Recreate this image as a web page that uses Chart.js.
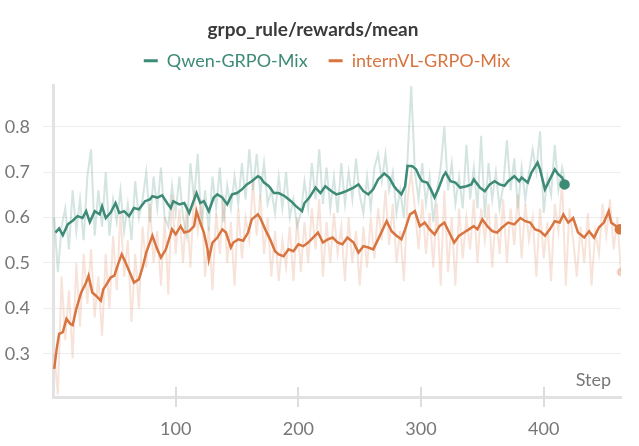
<!DOCTYPE html>
<html>
<head>
<meta charset="utf-8">
<script src="https://cdn.jsdelivr.net/npm/chart.js@4"></script>
<style>
  body { margin: 0; background: #fff; }
  #chart { display: block; }
</style>
</head>
<body>
<canvas id="chart" width="639" height="446"></canvas>
<script>
// ----- data -----
const seriesNames = ['Qwen-GRPO-Mix', 'internVL-GRPO-Mix'];
const yTicks = [0.3, 0.4, 0.5, 0.6, 0.7, 0.8];
const xTicks = [100, 200, 300, 400];

// smoothed curves
const qwenSteps = [2,5,8,12,16,20,24,27,30,34,38,40,43,47,51,54,58,62,66,70,75,79,81,85,89,93,
  96,98,103,107,111,114,117,120,123,127,131,134,138,142,146,150,154,158,162,167,169,172,176,180,184,
  189,194,198,203,205,209,214,218,222,227,231,235,239,245,249,253,257,261,265,270,274,278,
  280,284,287,289,293,296,299,301,305,308,311,314,318,320,324,328,332,337,341,343,348,352,356,360,364,368,
  371,376,380,382,387,390,395,397,401,405,409,412,415,417];
const qwenSmooth = [0.567,0.576,0.561,0.585,0.593,0.603,0.599,0.614,0.590,0.614,0.607,0.625,0.599,0.611,0.632,0.610,0.614,0.603,0.621,0.618,0.636,0.640,0.647,0.644,0.649,0.632,
  0.621,0.636,0.629,0.632,0.610,0.632,0.654,0.632,0.636,0.614,0.644,0.651,0.644,0.629,0.651,0.654,0.662,0.673,0.680,0.691,0.688,0.677,0.669,0.654,0.654,
  0.647,0.636,0.625,0.614,0.632,0.644,0.666,0.654,0.669,0.658,0.651,0.654,0.658,0.666,0.673,0.658,0.651,0.662,0.684,0.697,0.688,0.669,
  0.662,0.651,0.669,0.714,0.713,0.706,0.688,0.680,0.677,0.662,0.644,0.662,0.691,0.699,0.680,0.677,0.666,0.669,0.673,0.684,0.666,0.658,0.673,0.680,0.673,0.670,
  0.680,0.691,0.680,0.688,0.677,0.699,0.721,0.706,0.662,0.684,0.706,0.695,0.688,0.673];

const internSteps = [1,3,5,8,11,14,16,19,23,27,29,32,35,39,41,43,47,50,53,56,58,62,66,70,73,76,79,81,85,88,92,
  95,97,100,104,107,111,115,117,120,123,126,127,130,134,138,141,145,147,151,155,159,162,167,169,173,177,181,184,
  188,192,196,200,204,208,212,216,220,224,228,232,236,240,245,249,253,257,261,265,270,272,276,
  280,284,287,291,295,299,303,307,311,315,319,323,327,331,335,339,343,346,350,354,358,362,366,
  371,376,381,385,389,393,397,401,405,409,413,416,420,424,428,433,437,441,445,449,453,455,459,462];
const internSmooth = [0.267,0.311,0.344,0.348,0.377,0.366,0.363,0.399,0.435,0.457,0.472,0.435,0.428,0.417,0.442,0.450,0.468,0.472,0.497,0.519,0.508,0.483,0.457,0.464,0.490,0.523,0.545,0.560,0.530,0.512,0.530,
  0.556,0.574,0.563,0.581,0.567,0.570,0.581,0.614,0.589,0.567,0.530,0.508,0.545,0.556,0.574,0.567,0.534,0.545,0.552,0.549,0.567,0.596,0.607,0.599,0.574,0.552,0.526,0.519,
  0.515,0.530,0.526,0.541,0.537,0.545,0.556,0.567,0.545,0.552,0.556,0.545,0.541,0.556,0.545,0.523,0.537,0.534,0.530,0.552,0.581,0.592,0.570,
  0.560,0.552,0.574,0.607,0.614,0.581,0.589,0.574,0.563,0.581,0.589,0.567,0.545,0.560,0.567,0.574,0.581,0.574,0.596,0.581,0.570,0.567,0.578,
  0.589,0.585,0.599,0.592,0.589,0.574,0.570,0.560,0.574,0.592,0.589,0.607,0.589,0.599,0.567,0.556,0.570,0.556,0.578,0.589,0.614,0.589,0.581,0.574];

// raw (unsmoothed) values, one every 3 steps starting at step 1
const rawStride = 3;
const qwenRaw = [0.60,0.48,0.58,0.62,0.53,0.66,0.57,0.64,0.55,0.69,
  0.75,0.56,0.66,0.58,0.70,0.56,0.64,0.59,0.66,0.57,
  0.63,0.55,0.68,0.60,0.64,0.70,0.59,0.69,0.62,0.71,
  0.60,0.58,0.67,0.61,0.69,0.60,0.56,0.72,0.64,0.74,
  0.58,0.66,0.57,0.69,0.62,0.71,0.59,0.67,0.62,0.69,
  0.63,0.72,0.64,0.75,0.66,0.74,0.65,0.72,0.63,0.66,
  0.61,0.69,0.62,0.70,0.60,0.64,0.58,0.61,0.68,0.62,
  0.72,0.64,0.75,0.63,0.71,0.62,0.69,0.61,0.72,0.63,
  0.70,0.64,0.73,0.65,0.61,0.69,0.62,0.71,0.74,0.68,
  0.74,0.66,0.70,0.61,0.66,0.60,0.73,0.89,0.70,0.64,
  0.72,0.63,0.69,0.59,0.66,0.71,0.80,0.66,0.72,0.63,
  0.69,0.62,0.76,0.64,0.71,0.62,0.78,0.60,0.72,0.64,
  0.70,0.62,0.67,0.77,0.66,0.73,0.62,0.71,0.64,0.70,
  0.75,0.70,0.79,0.61,0.69,0.65,0.76,0.66,0.71,0.67];
const internRaw = [0.30,0.21,0.47,0.33,0.44,0.29,0.50,0.36,0.52,0.41,
  0.53,0.38,0.47,0.34,0.52,0.40,0.56,0.44,0.61,0.47,
  0.55,0.37,0.52,0.40,0.58,0.49,0.63,0.50,0.57,0.45,
  0.60,0.43,0.65,0.52,0.62,0.50,0.63,0.49,0.66,0.57,
  0.64,0.47,0.58,0.44,0.61,0.52,0.65,0.50,0.59,0.45,
  0.62,0.51,0.60,0.55,0.68,0.56,0.65,0.52,0.60,0.47,
  0.57,0.46,0.55,0.49,0.58,0.46,0.60,0.48,0.59,0.50,
  0.62,0.53,0.64,0.47,0.59,0.50,0.61,0.52,0.58,0.46,
  0.60,0.50,0.57,0.45,0.58,0.49,0.60,0.51,0.62,0.55,
  0.66,0.54,0.63,0.50,0.57,0.46,0.64,0.70,0.62,0.53,
  0.64,0.52,0.61,0.49,0.63,0.45,0.66,0.48,0.60,0.45,
  0.62,0.51,0.60,0.53,0.64,0.50,0.62,0.55,0.63,0.49,
  0.61,0.52,0.64,0.50,0.62,0.54,0.65,0.51,0.63,0.55,
  0.60,0.47,0.62,0.51,0.59,0.46,0.63,0.57,0.68,0.45,
  0.62,0.55,0.47,0.58,0.50,0.61,0.45,0.57,0.52,0.63,
  0.56,0.64,0.53,0.60,0.48];

const qwenColor = '#3d8a76';
const internColor = '#d8743f';

// ----- helpers -----
function toPoints(steps, values) {
  return values.map((v, i) => ({ x: steps[i], y: v }));
}
function rawPoints(values) {
  return values.map((v, i) => ({ x: 1 + i * rawStride, y: v }));
}
function lastDot(r) {
  return ctx => (ctx.dataIndex === ctx.dataset.data.length - 1 ? r : 0);
}

// room under the legend, and nudge it right like in the reference
const legendTweak = {
  id: 'legendTweak',
  beforeInit(chart) {
    const fit = chart.legend.fit;
    chart.legend.fit = function () {
      fit.bind(chart.legend)();
      this.height += 6;
    };
  },
  afterLayout(chart) {
    chart.legend.left += 14;
    chart.legend.right += 14;
  }
};

// draws the tick marks across the x axis and the "Step" caption
const axisExtras = {
  id: 'axisExtras',
  beforeDatasetsDraw(chart) {
    const { ctx, chartArea, scales } = chart;
    ctx.save();
    ctx.strokeStyle = '#dddddd';
    ctx.lineWidth = 2;
    xTicks.forEach(v => {
      const px = Math.round(scales.x.getPixelForValue(v));
      ctx.beginPath();
      ctx.moveTo(px, chartArea.bottom - 10);
      ctx.lineTo(px, chartArea.bottom + 10);
      ctx.stroke();
    });
    ctx.fillStyle = '#777777';
    ctx.font = '18px Lato';
    ctx.textAlign = 'right';
    ctx.textBaseline = 'alphabetic';
    ctx.fillText('Step', chartArea.right - 10, chartArea.bottom - 11);
    ctx.restore();
  }
};

new Chart(document.getElementById('chart'), {
  type: 'line',
  data: {
    datasets: [
      { label: seriesNames[0], data: toPoints(qwenSteps, qwenSmooth), borderColor: qwenColor, backgroundColor: qwenColor,
        borderWidth: 2.5, pointRadius: lastDot(4), pointHoverRadius: 0, order: 0 },
      { label: seriesNames[1], data: toPoints(internSteps, internSmooth), borderColor: internColor, backgroundColor: internColor,
        borderWidth: 2.5, pointRadius: lastDot(4), pointHoverRadius: 0, order: 0 },
      { label: 'qwen raw', data: rawPoints(qwenRaw), borderColor: 'rgba(61,138,118,0.22)', backgroundColor: 'rgba(61,138,118,0.22)',
        borderWidth: 2, pointRadius: 0, order: 2 },
      { label: 'intern raw', data: rawPoints(internRaw), borderColor: 'rgba(216,116,63,0.2)', backgroundColor: 'rgba(216,116,63,0.3)',
        borderWidth: 2, pointRadius: lastDot(3.5), order: 1 }
    ]
  },
  options: {
    responsive: false,
    animation: false,
    devicePixelRatio: 1,
    layout: { padding: { left: 5, right: 18, bottom: 4 } },
    plugins: {
      title: {
        display: true,
        text: 'grpo_rule/rewards/mean',
        color: '#3a3a3a',
        font: { family: 'Lato', size: 19, weight: 'bold' },
        padding: { top: 18, bottom: -10 }
      },
      legend: {
        labels: {
          usePointStyle: true,
          pointStyle: 'line',
          pointStyleWidth: 14,
          padding: 21,
          font: { family: 'Lato', size: 18 },
          filter: item => item.datasetIndex < 2,
          generateLabels(chart) {
            const items = Chart.defaults.plugins.legend.labels.generateLabels(chart);
            items.forEach(it => { it.fontColor = it.strokeStyle; it.lineWidth = 3; });
            return items;
          }
        }
      },
      tooltip: { enabled: false }
    },
    scales: {
      x: {
        type: 'linear',
        min: 0,
        max: 463,
        afterBuildTicks: axis => { axis.ticks = xTicks.map(v => ({ value: v })); },
        afterFit: scale => { scale.height = 45; },
        grid: { display: false },
        border: { color: '#e2e2e2', width: 3 },
        ticks: { color: '#777777', padding: 13, font: { family: 'Lato', size: 18 } }
      },
      y: {
        min: 0.205,
        max: 0.89,
        afterBuildTicks: axis => { axis.ticks = yTicks.map(v => ({ value: v })); },
        afterFit: scale => { scale.width = 48; },
        grid: { color: '#ededed', lineWidth: 1, tickLength: 10, tickColor: '#ededed' },
        border: { color: '#e2e2e2', width: 3 },
        ticks: { color: '#777777', padding: 13, font: { family: 'Lato', size: 18 }, callback: v => v.toFixed(1) }
      }
    }
  },
  plugins: [axisExtras, legendTweak]
});
</script>
</body>
</html>
